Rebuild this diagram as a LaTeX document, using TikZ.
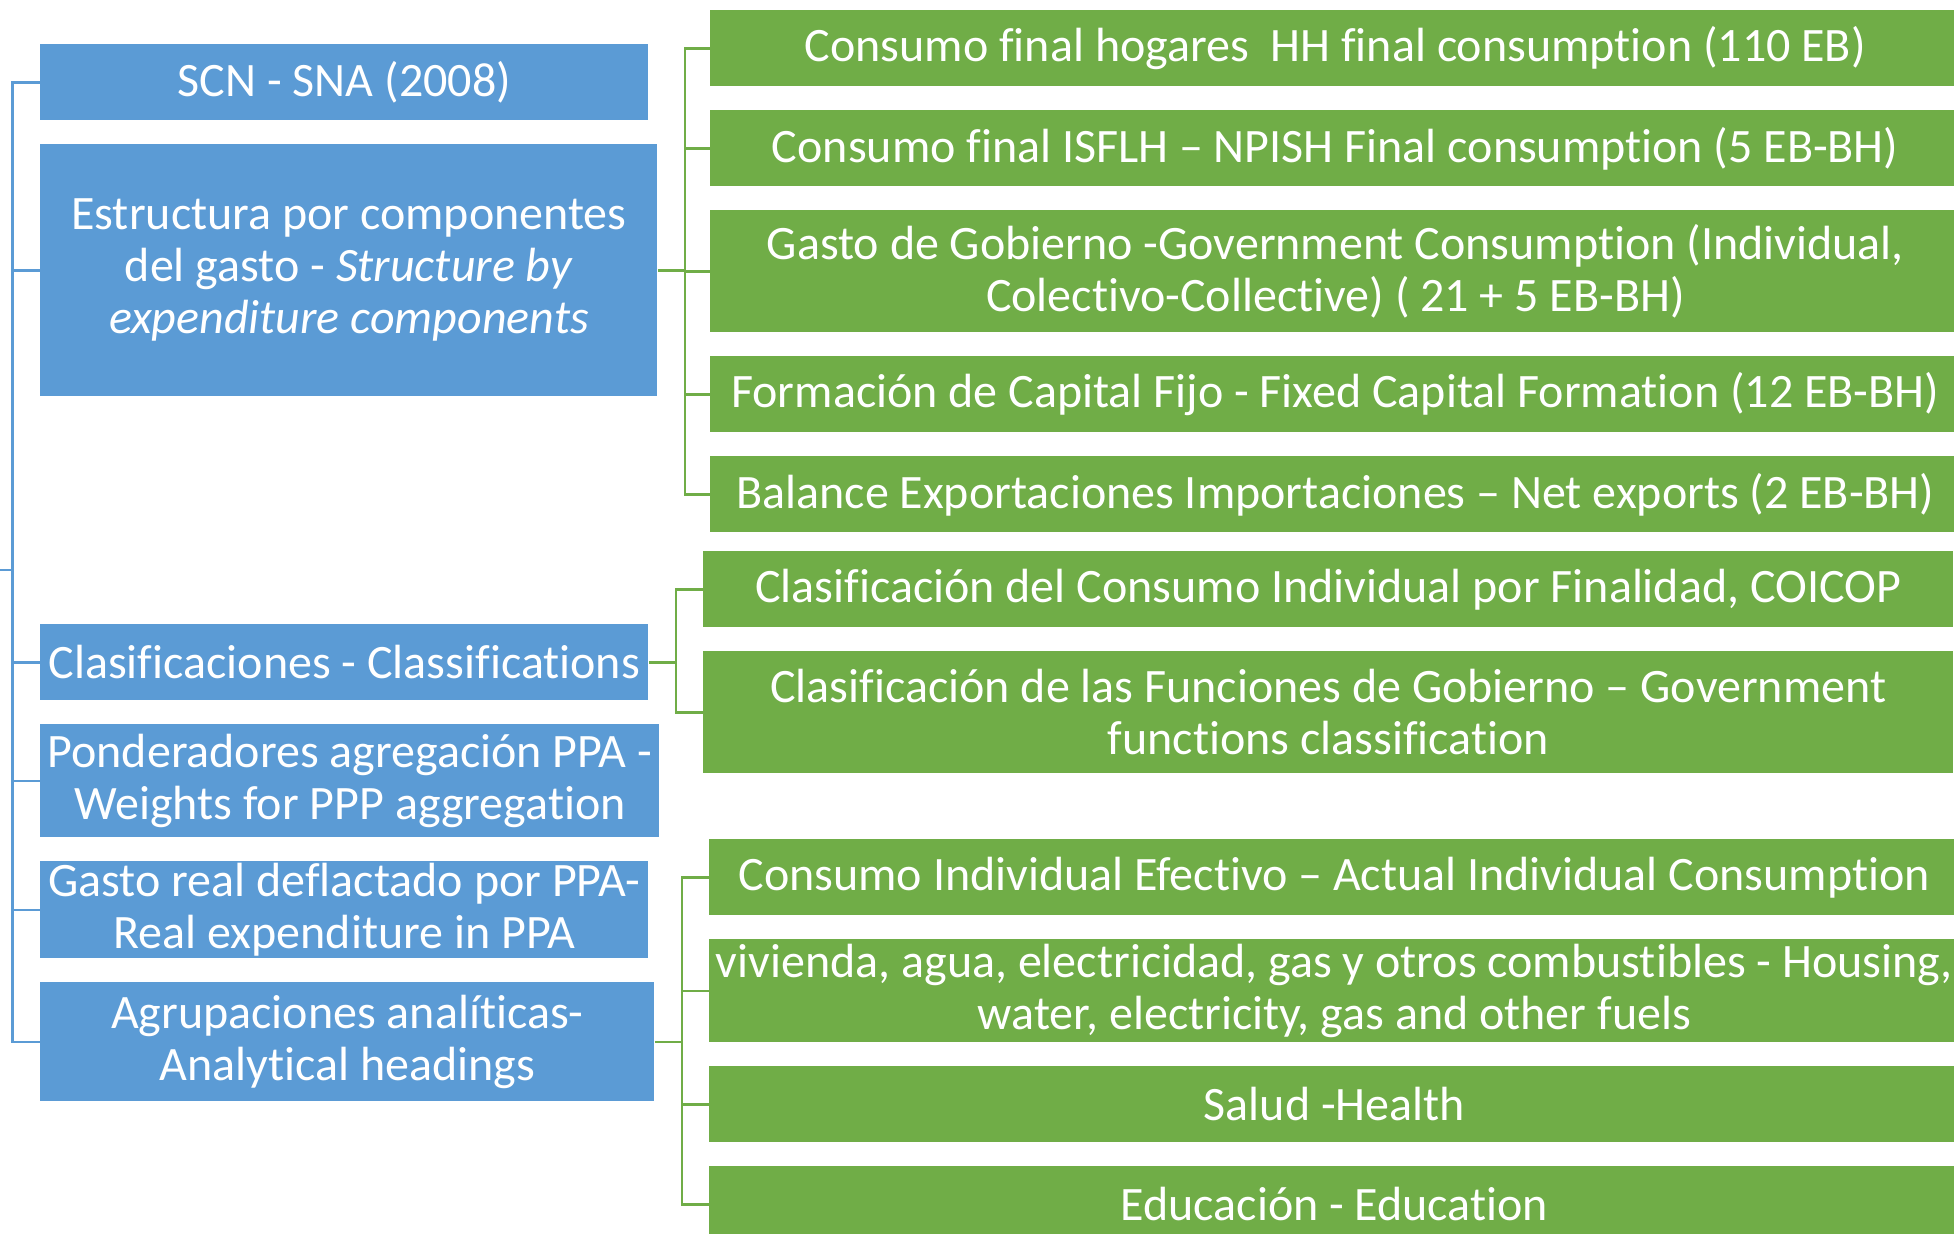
\documentclass[tikz,border=0pt]{standalone}
\usepackage{fontspec}
\setmainfont{Carlito}[Ligatures={TeX,NoCommon}]
\usepackage{xcolor}
\usepackage{tikz}
\usetikzlibrary{positioning, calc}
\definecolor{officeblue}{HTML}{5B9BD5}
\definecolor{officegreen}{HTML}{70AD47}
\tikzset{
    baseblock/.style={rectangle, text=white, align=center, inner xsep=2pt, inner ysep=0pt, font=\fontsize{24}{26}\selectfont},
    topicblock/.style={baseblock, fill=officeblue, anchor=north west},
    itemblock/.style={baseblock, fill=officegreen, minimum width=625pt, minimum height=38pt, anchor=north west},
    bluelink/.style={line width=1.25pt, color=officeblue},
    greenlink/.style={line width=1.25pt, color=officegreen}
}

\begin{document}
\begin{tikzpicture}[x=0.5pt, y=-0.5pt, node distance=11.6pt]
    \useasboundingbox (0,0) rectangle (1954,1233);
    \clip (0,0) rectangle (1954,1233);
    \fill[white] (0,0) rectangle (1954,1233);

    % left column
    \node (scn) [topicblock, minimum width=304pt, minimum height=38pt] at (40,44) {SCN - SNA (2008)};
    \node (estr) [topicblock, minimum width=308.5pt, minimum height=126pt, below=of scn.south west, anchor=north west] {Estructura por componentes\\ del gasto - \textit{Structure by}\\ \textit{expenditure components}};
    \node (clasif) [topicblock, minimum width=304pt, minimum height=38pt] at (40,624) {Clasificaciones - Classifications};
    \node (ponder) [topicblock, minimum width=309.5pt, minimum height=56.5pt, below=of clasif.south west, anchor=north west] {Ponderadores agregación PPA -\\ Weights for PPP aggregation};
    \node (gasto) [topicblock, minimum width=304pt, minimum height=48.5pt, below=of ponder.south west, anchor=north west] {Gasto real deflactado por PPA-\\ Real expenditure in PPA};
    \node (agrup) [topicblock, minimum width=307pt, minimum height=59.5pt, below=of gasto.south west, anchor=north west] {Agrupaciones analíticas-\\ Analytical headings};

    % expenditure components
    \node (hh) [itemblock] at (710,10) {Consumo final hogares\ \ HH final consumption (110 EB)};
    \node (isflh) [itemblock, below=of hh.south west, anchor=north west] {Consumo final ISFLH – NPISH Final consumption (5 EB-BH)};
    \node (gov) [itemblock, minimum height=61pt, below=of isflh.south west, anchor=north west] {Gasto de Gobierno -Government Consumption (Individual,\\ Colectivo-Collective) ( 21 + 5 EB-BH)};
    \node (fcf) [itemblock, below=of gov.south west, anchor=north west] {Formación de Capital Fijo - Fixed Capital Formation (12 EB-BH)};
    \node (netx) [itemblock, below=of fcf.south west, anchor=north west] {Balance Exportaciones Importaciones – Net exports (2 EB-BH)};

    % classifications
    \node (coicop) [itemblock] at (703,551) {Clasificación del Consumo Individual por Finalidad, COICOP};
    \node (cofog) [itemblock, minimum height=61pt, below=of coicop.south west, anchor=north west] {Clasificación de las Funciones de Gobierno – Government\\ functions classification};

    % analytical headings
    \node (aic) [itemblock] at (709,839) {Consumo Individual Efectivo – Actual Individual Consumption};
    \node (housing) [itemblock, minimum height=51.5pt, below=of aic.south west, anchor=north west] {vivienda, agua, electricidad, gas y otros combustibles - Housing,\\ water, electricity, gas and other fuels};
    \node (health) [itemblock, below=of housing.south west, anchor=north west] {Salud -Health};
    \node (educ) [itemblock, below=of health.south west, anchor=north west] {Educación - Education};

    % connectors
    \coordinate (rootin) at (0,570);
    \coordinate (root) at (12.5,570);
    \draw [bluelink] (rootin) -- (root);
    \foreach \n in {scn,estr,clasif,ponder,gasto,agrup}
        \draw [bluelink] (root) |- (\n.west);

    \coordinate (estrfork) at ($(estr.east)+(27,0)$);
    \draw [greenlink] (estr.east) -- (estrfork);
    \foreach \n in {hh,isflh,gov,fcf,netx}
        \draw [greenlink] (estrfork) |- (\n.west);

    \coordinate (clasiffork) at ($(clasif.east)+(27,0)$);
    \draw [greenlink] (clasif.east) -- (clasiffork);
    \foreach \n in {coicop,cofog}
        \draw [greenlink] (clasiffork) |- (\n.west);

    \coordinate (agrupfork) at ($(agrup.east)+(27,0)$);
    \draw [greenlink] (agrup.east) -- (agrupfork);
    \foreach \n in {aic,housing,health,educ}
        \draw [greenlink] (agrupfork) |- (\n.west);
\end{tikzpicture}
\end{document}
